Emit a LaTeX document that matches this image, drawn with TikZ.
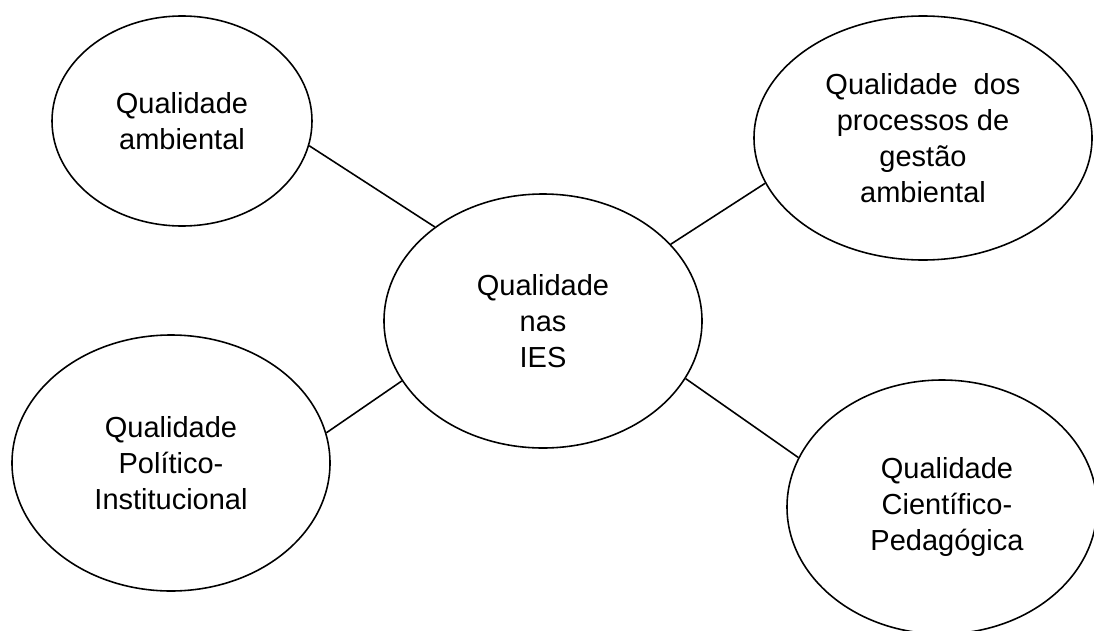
\documentclass[tikz,border=0pt]{standalone}
\usepackage{fontspec}
\setmainfont{Liberation Sans}
\usetikzlibrary{shapes.geometric}
\begin{document}
\begin{tikzpicture}[
  bubble/.style={draw=black, line width=0.9pt, ellipse, inner sep=0pt, align=center,
    font=\fontsize{16.5}{20.6}\selectfont},
  link/.style={draw=black, line width=0.9pt}
]
\useasboundingbox (0,0) rectangle (21.88,12.6);
\node[bubble, minimum width=5.2cm, minimum height=4.2cm] (tl) at (3.64,10.18) {Qualidade\\ambiental};
\node[bubble, minimum width=6.76cm, minimum height=4.88cm] (tr) at (18.46,9.84) {Qualidade~~dos\\processos de\\gestão\\ambiental};
\node[bubble, minimum width=6.36cm, minimum height=5.08cm] (c) at (10.86,6.18) {Qualidade\\nas\\IES};
\node[bubble, minimum width=6.36cm, minimum height=5.12cm] (bl) at (3.42,3.34) {Qualidade\\Político-\\Institucional};
\node[bubble, minimum width=6.2cm, minimum height=5.08cm] (br) at (18.84,2.46) {\hspace*{0.2cm}Qualidade\\\hspace*{0.2cm}Científico-\\\hspace*{0.2cm}Pedagógica};
\draw[link] (tl.-11.5) -- (c.139.5);
\draw[link] (c.31.6) -- (tr.196);
\draw[link] (bl.11.7) -- (c.203.5);
\draw[link] (c.-22.6) -- (br.161.7);
\end{tikzpicture}
\end{document}
